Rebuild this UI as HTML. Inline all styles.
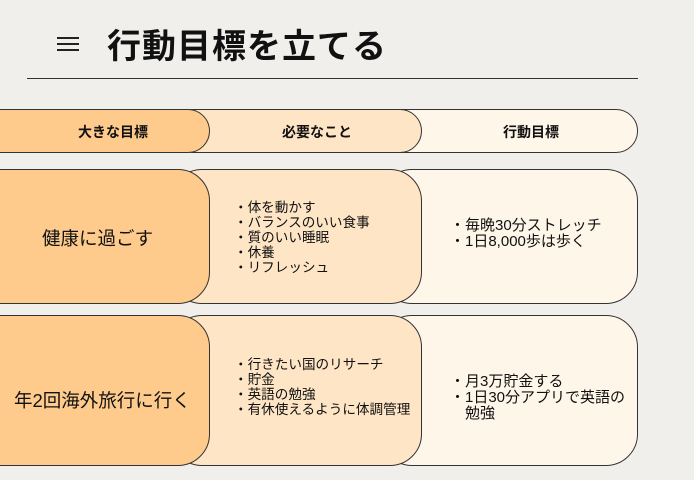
<!DOCTYPE html>
<html><head><meta charset="utf-8"><style>
body{margin:0;width:694px;height:480px;background:#f0efeb;position:relative;overflow:hidden;font-family:"Liberation Sans","Noto Sans CJK JP",sans-serif;color:#111}
.b{position:absolute;border:1px solid #333;box-sizing:border-box}
.t{position:absolute;white-space:nowrap}
.c1{background:#fecb8d}.c2{background:#fee5c5}.c3{background:#fff6ea}
.h{font-size:14px;font-weight:bold;text-align:center}
.l{font-size:13.6px;line-height:15px}
.r{font-size:15px;line-height:16px}
.big{font-size:18.5px}
</style></head><body>
<div style="position:absolute;left:57px;top:37px;width:22px;height:2px;background:#222"></div>
<div style="position:absolute;left:57px;top:43px;width:22px;height:2px;background:#222"></div>
<div style="position:absolute;left:57px;top:49px;width:22px;height:2px;background:#222"></div>
<div class="t" style="left:107px;top:19px;font-size:34px;font-weight:bold;letter-spacing:1px">行動目標を立てる</div>
<div style="position:absolute;left:27px;top:78px;width:611px;height:1px;background:#333"></div>

<div class="b c3" style="left:380px;top:109px;width:258px;height:44px;border-radius:22px"></div>
<div class="b c2" style="left:170px;top:109px;width:252px;height:44px;border-radius:22px"></div>
<div class="b c1" style="left:-30px;top:109px;width:240px;height:44px;border-radius:22px"></div>
<div class="t h" style="left:60px;top:122px;width:106px">大きな目標</div>
<div class="t h" style="left:264px;top:122px;width:106px">必要なこと</div>
<div class="t h" style="left:478px;top:122px;width:106px">行動目標</div>

<div class="b c3" style="left:380px;top:169px;width:258px;height:135px;border-radius:32px"></div>
<div class="b c2" style="left:170px;top:169px;width:252px;height:135px;border-radius:32px"></div>
<div class="b c1" style="left:-30px;top:169px;width:240px;height:135px;border-radius:32px"></div>
<div class="t big" style="left:42px;top:225px">健康に過ごす</div>
<div class="t l" style="left:234px;top:200px">・体を動かす<br>・バランスのいい食事<br>・質のいい睡眠<br>・休養<br>・リフレッシュ</div>
<div class="t r" style="left:450px;top:218px">・毎晩30分ストレッチ<br>・1日8,000歩は歩く</div>

<div class="b c3" style="left:380px;top:315px;width:258px;height:151px;border-radius:32px"></div>
<div class="b c2" style="left:170px;top:315px;width:252px;height:151px;border-radius:32px"></div>
<div class="b c1" style="left:-30px;top:315px;width:240px;height:151px;border-radius:32px"></div>
<div class="t big" style="left:14px;top:387px">年2回海外旅行に行く</div>
<div class="t l" style="left:234px;top:357px">・行きたい国のリサーチ<br>・貯金<br>・英語の勉強<br>・有休使えるように体調管理</div>
<div class="t r" style="left:450px;top:374px">・月3万貯金する<br>・1日30分アプリで英語の<br><span style="padding-left:15px">勉強</span></div>
</body></html>
